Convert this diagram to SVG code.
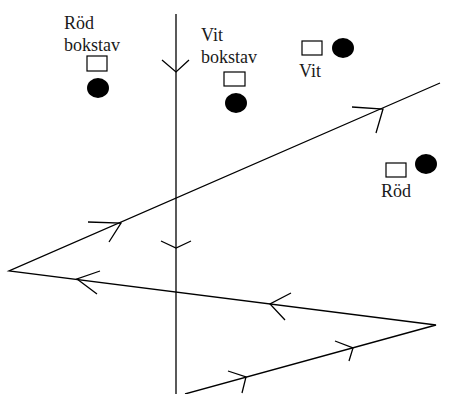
<svg xmlns="http://www.w3.org/2000/svg" width="449" height="394" viewBox="0 0 449 394">
<style>
.ln{stroke:#000;stroke-width:1.3;fill:none}
.bx{fill:#fff;stroke:#000;stroke-width:1.2}
.dot{fill:#000}
.t{font-family:"Liberation Serif",serif;font-size:18px;fill:#1a1a1a}
</style>
<rect width="449" height="394" fill="#fff"/>
<g id="connectors" class="ln">
<path d="M176,14 V394"/>
<path d="M162,60 L176,72 L189,60"/>
<path d="M161,241 L176,248 L191,241"/>
<path d="M440,83 L9,271 L436,325 L185,394"/>
<path d="M88,222 L121,223 L109,242"/>
<path d="M352,107 L383,109 L376,133"/>
<path d="M100,271 L77,279 L97,294"/>
<path d="M291,293 L270,304 L285,320"/>
<path d="M335,341 L353,348 L349,361"/>
<path d="M228,371 L246,377 L242,393"/>
</g>
<g id="rod-bokstav">
<text class="t" x="64" y="29">Röd</text>
<text class="t" x="64" y="51">bokstav</text>
<rect class="bx" x="87" y="56" width="20" height="15"/>
<ellipse class="dot" cx="98" cy="88" rx="11" ry="10"/>
</g>
<g id="vit-bokstav">
<text class="t" x="201" y="41">Vit</text>
<text class="t" x="201" y="63">bokstav</text>
<rect class="bx" x="224" y="72" width="21" height="14"/>
<ellipse class="dot" cx="236" cy="103" rx="11" ry="10"/>
</g>
<g id="vit">
<rect class="bx" x="302" y="41" width="20" height="14"/>
<ellipse class="dot" cx="343" cy="48" rx="11" ry="10"/>
<text class="t" x="299" y="77">Vit</text>
</g>
<g id="rod">
<rect class="bx" x="386" y="163" width="20" height="14"/>
<ellipse class="dot" cx="426" cy="164" rx="11" ry="10"/>
<text class="t" x="381" y="197">Röd</text>
</g>
</svg>
